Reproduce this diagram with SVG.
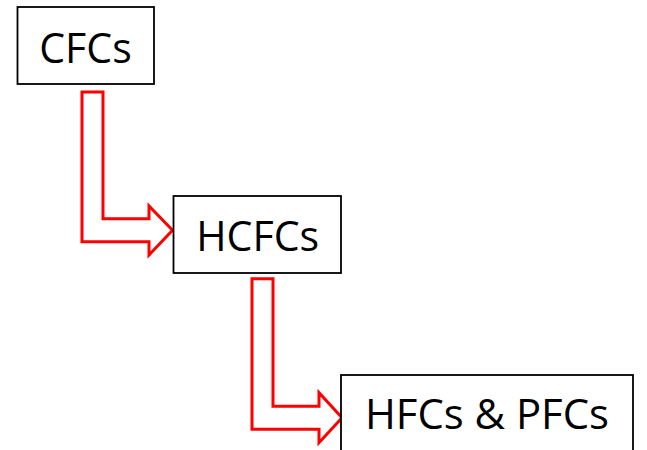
<svg xmlns="http://www.w3.org/2000/svg" width="647" height="450" viewBox="0 0 647 450">
<style>
.box{fill:#fff;stroke:#000;stroke-width:1.8}
.lbl{font-family:"Open Sans","Liberation Sans",sans-serif;font-size:42px;fill:#000;text-anchor:middle}
.arr{fill:#fff;stroke:#ff0000;stroke-width:3;stroke-linejoin:miter}
</style>
<rect width="647" height="450" fill="#fff"/>
<g id="connectors">
<path class="arr" d="M82,92 L103,92 L103,218.7 L149,218.7 L149,206 L172.5,230.3 L149,255 L149,241.7 L82,241.7 Z"/>
<path class="arr" d="M252,278.7 L273,278.7 L273,406.3 L319,406.3 L319,392.7 L342,417.8 L319,442.7 L319,429.3 L252,429.3 Z"/>
</g>
<g id="cfcs">
<rect class="box" x="17.5" y="7" width="136.5" height="77"/>
<text class="lbl" x="85.5" y="62.7" textLength="92.5" lengthAdjust="spacingAndGlyphs">CFCs</text>
</g>
<g id="hcfcs">
<rect class="box" x="173.5" y="196" width="167.5" height="77"/>
<text class="lbl" x="257.7" y="251" textLength="123" lengthAdjust="spacingAndGlyphs">HCFCs</text>
</g>
<g id="hfcs">
<rect class="box" x="341" y="375" width="292" height="90"/>
<text class="lbl" x="487" y="429.3" textLength="244" lengthAdjust="spacingAndGlyphs">HFCs &amp; PFCs</text>
</g>
</svg>
